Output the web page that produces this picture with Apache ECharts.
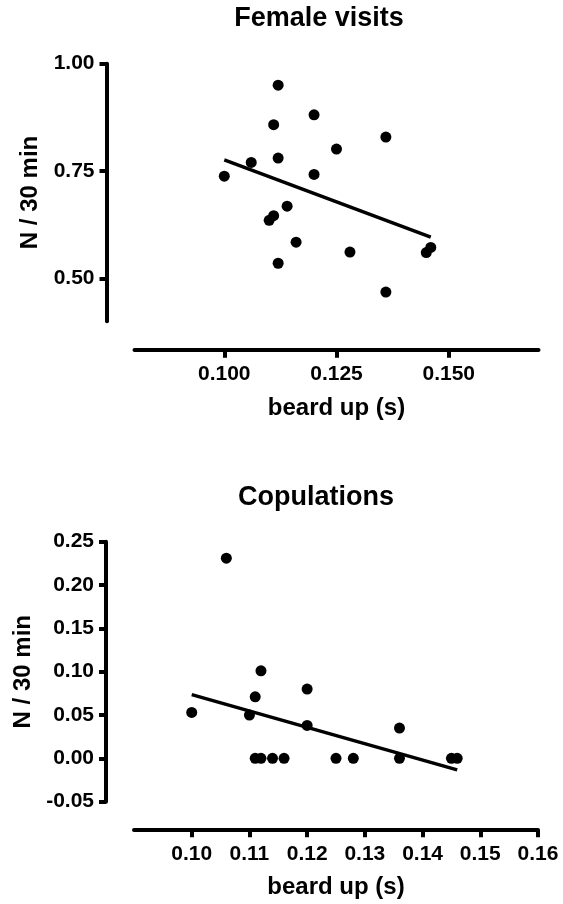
<!DOCTYPE html>
<html>
<head>
<meta charset="utf-8">
<script src="https://cdn.jsdelivr.net/npm/echarts@6/dist/echarts.min.js"></script>
<style>
  html, body { margin: 0; padding: 0; background: #fff; }
  #chart { width: 563px; height: 904px; }
</style>
</head>
<body>
<div id="chart"></div>
<script>
// Female visits panel
const visitsBeard = [0.100, 0.106, 0.112, 0.111, 0.112, 0.120, 0.120, 0.125, 0.136, 0.114,
  0.110, 0.111, 0.116, 0.112, 0.128, 0.136, 0.145, 0.146];
const visitsRate = [0.738, 0.770, 0.950, 0.858, 0.780, 0.881, 0.742, 0.801, 0.829, 0.668,
  0.635, 0.646, 0.584, 0.535, 0.561, 0.468, 0.560, 0.572];
const visitsFitX = [0.100, 0.146];
const visitsFitY = [0.776, 0.596];

// Copulations panel
const copBeard = [0.100, 0.106, 0.110, 0.111, 0.112, 0.120, 0.120, 0.136, 0.111, 0.112,
  0.114, 0.116, 0.125, 0.128, 0.136, 0.145, 0.146];
const copRate = [0.053, 0.231, 0.050, 0.071, 0.101, 0.080, 0.038, 0.035, 0, 0,
  0, 0, 0, 0, 0, 0, 0];
const copFitX = [0.100, 0.146];
const copFitY = [0.0735, -0.0133];

// tick labels
const visitsXTicks = [0.100, 0.125, 0.150];
const visitsYTicks = [0.50, 0.75, 1.00];
const copXTicks = [0.10, 0.11, 0.12, 0.13, 0.14, 0.15, 0.16];
const copYTicks = [-0.05, 0, 0.05, 0.10, 0.15, 0.20, 0.25];

const FONT = '"Liberation Sans", Arial, sans-serif';
const pairs = (xs, ys) => xs.map((x, i) => [x, ys[i]]);

function xAxisOf(grid, min, max, ticks, digits, offset) {
  return {
    type: 'value',
    gridIndex: grid,
    min: min,
    max: max,
    position: 'bottom',
    offset: offset,
    name: 'beard up (s)',
    nameLocation: 'middle',
    nameGap: 46,
    nameTextStyle: { fontSize: 24, fontWeight: 'bold', color: '#000', fontFamily: FONT },
    axisLine: { show: true, onZero: false, lineStyle: { color: '#000', width: 4 } },
    axisTick: { show: true, length: 7.5, customValues: ticks, lineStyle: { color: '#000', width: 4 } },
    axisLabel: {
      customValues: ticks,
      margin: 14,
      fontSize: 21,
      fontWeight: 'bold',
      color: '#000',
      fontFamily: FONT,
      formatter: (v) => v.toFixed(digits),
    },
    splitLine: { show: false },
  };
}

function yAxisOf(grid, min, max, ticks, gap) {
  return {
    type: 'value',
    gridIndex: grid,
    min: min,
    max: max,
    position: 'left',
    offset: 28,
    name: 'N / 30 min',
    nameLocation: 'middle',
    nameGap: gap,
    nameTextStyle: { fontSize: 24, fontWeight: 'bold', color: '#000', fontFamily: FONT },
    axisLine: { show: true, onZero: false, lineStyle: { color: '#000', width: 4 } },
    axisTick: { show: true, length: 7, customValues: ticks, lineStyle: { color: '#000', width: 4 } },
    axisLabel: {
      customValues: ticks,
      margin: 12,
      fontSize: 21,
      fontWeight: 'bold',
      color: '#000',
      fontFamily: FONT,
      formatter: (v) => v.toFixed(2),
    },
    splitLine: { show: false },
  };
}

const chart = echarts.init(document.getElementById('chart'), null, { renderer: 'canvas' });

chart.setOption({
  animation: false,
  backgroundColor: '#fff',
  textStyle: { fontFamily: FONT },
  graphic: [
    {
      type: 'text', x: 319, y: 19,
      style: { text: 'Female visits', font: 'bold 27px ' + FONT, fill: '#000', align: 'center', verticalAlign: 'middle' },
    },
    {
      type: 'text', x: 316, y: 498,
      style: { text: 'Copulations', font: 'bold 27px ' + FONT, fill: '#000', align: 'center', verticalAlign: 'middle' },
    },
  ],
  grid: [
    { left: 134.5, top: 63.7, width: 404, height: 257.5 },
    { left: 134, top: 541.7, width: 404, height: 260 },
  ],
  xAxis: [
    xAxisOf(0, 0.08, 0.17, visitsXTicks, 3, 29),
    xAxisOf(1, 0.09, 0.16, copXTicks, 2, 28),
  ],
  yAxis: [
    yAxisOf(0, 0.40, 1.00, visitsYTicks, 58),
    yAxisOf(1, -0.05, 0.25, copYTicks, 67),
  ],
  series: [
    {
      type: 'scatter', xAxisIndex: 0, yAxisIndex: 0,
      data: pairs(visitsBeard, visitsRate),
      symbol: 'circle', symbolSize: 11,
      itemStyle: { color: '#000', opacity: 1 },
    },
    {
      type: 'line', xAxisIndex: 0, yAxisIndex: 0,
      data: pairs(visitsFitX, visitsFitY),
      symbol: 'none',
      lineStyle: { color: '#000', width: 3.5 },
    },
    {
      type: 'scatter', xAxisIndex: 1, yAxisIndex: 1,
      data: pairs(copBeard, copRate),
      symbol: 'circle', symbolSize: 11,
      itemStyle: { color: '#000', opacity: 1 },
    },
    {
      type: 'line', xAxisIndex: 1, yAxisIndex: 1,
      data: pairs(copFitX, copFitY),
      symbol: 'none',
      lineStyle: { color: '#000', width: 3.5 },
    },
  ],
});
</script>
</body>
</html>
